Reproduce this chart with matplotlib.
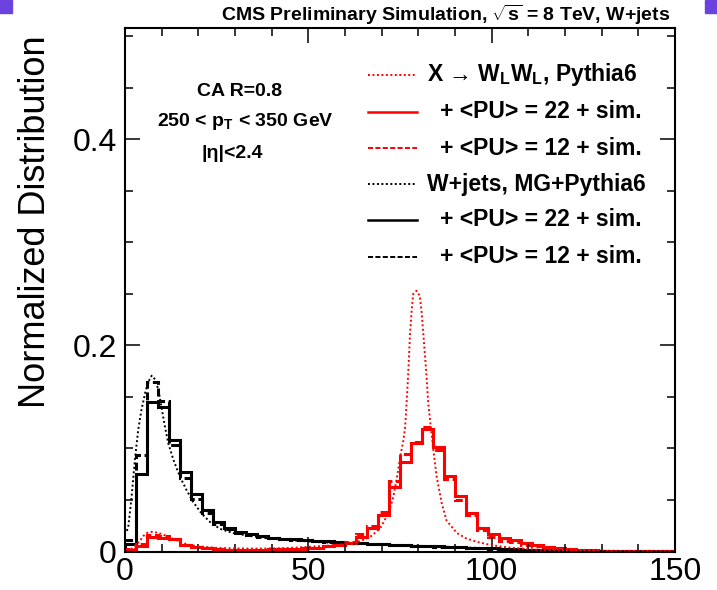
import numpy as np
import matplotlib
matplotlib.use('Agg')
import matplotlib.pyplot as plt
from matplotlib.patches import Rectangle
from matplotlib.ticker import FixedLocator, MultipleLocator, FuncFormatter

plt.rcParams['font.family'] = ['Liberation Sans', 'DejaVu Sans']
plt.rcParams['mathtext.fontset'] = 'custom'
plt.rcParams['mathtext.rm'] = 'Liberation Sans:bold'
plt.rcParams['mathtext.it'] = 'Liberation Sans:bold'
plt.rcParams['mathtext.bf'] = 'Liberation Sans:bold'
plt.rcParams['mathtext.default'] = 'rm'

# ---------------- data ----------------
bin_edges = np.arange(0, 151, 3)  # 50 bins of 3 GeV

wjets_pu22 = [0.007, 0.075, 0.145, 0.140, 0.108, 0.077, 0.056, 0.040, 0.029, 0.023,
              0.019, 0.0168, 0.0152, 0.0135, 0.0125, 0.0118, 0.0112, 0.0106, 0.0100, 0.0093,
              0.0086, 0.0081, 0.0076, 0.0071, 0.0067, 0.0063, 0.0058, 0.0054, 0.0050, 0.0046,
              0.0042, 0.0038, 0.0034, 0.0030, 0.0026, 0.0022, 0.0019, 0.0016, 0.0014, 0.0012,
              0.0010, 0.0009, 0.0008, 0.0007, 0.0006, 0.0005, 0.0005, 0.0004, 0.0004, 0.0003]

wjets_pu12 = [0.011, 0.094, 0.164, 0.146, 0.103, 0.071, 0.051, 0.037, 0.027, 0.022,
              0.018, 0.016, 0.0145, 0.013, 0.012, 0.0113, 0.0107, 0.0101, 0.0095, 0.0089,
              0.0083, 0.0078, 0.0073, 0.0068, 0.0064, 0.0060, 0.0055, 0.0051, 0.0047, 0.0043,
              0.0039, 0.0035, 0.0031, 0.0027, 0.0024, 0.0020, 0.0017, 0.0015, 0.0013, 0.0011,
              0.0009, 0.0008, 0.0007, 0.0006, 0.0005, 0.0005, 0.0004, 0.0004, 0.0003, 0.0003]

ww_pu22 = [0.001, 0.005, 0.014, 0.0135, 0.012, 0.0065, 0.0045, 0.0035, 0.0025, 0.0012,
           0.0014, 0.0016, 0.0017, 0.0020, 0.0024, 0.0027, 0.0030, 0.0038, 0.0050, 0.0060,
           0.0080, 0.0140, 0.0228, 0.0358, 0.0628, 0.0871, 0.1057, 0.1187, 0.1018, 0.0732,
           0.0540, 0.0374, 0.0232, 0.0170, 0.0128, 0.0107, 0.0078, 0.0059, 0.0044, 0.0034,
           0.0026, 0.0017, 0.0011, 0.0009, 0.0006, 0.0005, 0.0004, 0.0003, 0.0003, 0.0002]

ww_pu12 = [0.002, 0.007, 0.016, 0.015, 0.012, 0.0065, 0.0045, 0.0033, 0.0024, 0.0012,
           0.0013, 0.0015, 0.0016, 0.0019, 0.0023, 0.0026, 0.0029, 0.0037, 0.0049, 0.0062,
           0.0088, 0.0170, 0.0244, 0.0384, 0.0680, 0.0950, 0.1066, 0.1210, 0.0985, 0.0700,
           0.0504, 0.0358, 0.0205, 0.0140, 0.0100, 0.0090, 0.0065, 0.0050, 0.0038, 0.0030,
           0.0022, 0.0015, 0.0010, 0.0008, 0.0006, 0.0005, 0.0004, 0.0003, 0.0002, 0.0002]

# generator-level (fine binned) curves
ww_gen_mass = [0.5, 2, 4, 5, 6, 7, 8, 9, 10, 12, 14, 16, 18, 20, 25, 30, 35, 40, 45, 50, 55, 58,
               61.4, 64.1, 66.8, 69.5, 71.8, 73.2, 74.5, 75.2, 75.9, 76.4, 76.8, 77.3, 77.7,
               78.2, 78.6, 79.5, 80.4, 80.9, 81.4, 82.1, 82.7, 83.4, 84.1, 85.0, 86.4, 87.7,
               90.5, 93.2, 96.4, 99.1, 102.3, 105.5, 110.9, 115, 120, 130, 150]
ww_gen_vals = [0.0005, 0.003, 0.010, 0.015, 0.018, 0.019, 0.019, 0.018, 0.017, 0.014, 0.011,
               0.008, 0.006, 0.005, 0.0035, 0.003, 0.0028, 0.003, 0.0035, 0.0045, 0.0055, 0.0065,
               0.0081, 0.010, 0.014, 0.022, 0.0367, 0.053, 0.079, 0.095, 0.107, 0.121, 0.144,
               0.177, 0.209, 0.235, 0.250, 0.253, 0.248, 0.232, 0.209, 0.177, 0.144, 0.121,
               0.0985, 0.0725, 0.0465, 0.030, 0.018, 0.0124, 0.009, 0.0068, 0.0049, 0.0036,
               0.0021, 0.0012, 0.0006, 0.0003, 0.0001]

wj_gen_mass = [0.5, 0.9, 1.8, 2.7, 3.6, 4.5, 5.5, 6.4, 7.3, 8.2, 9.1, 10, 10.9, 11.8, 13.2, 15,
               16.8, 18.6, 20.9, 23.2, 25.9, 29.5, 35, 44, 53, 62, 70, 80, 90, 100, 110, 120,
               130, 150]
wj_gen_vals = [0.020, 0.024, 0.053, 0.089, 0.118, 0.1376, 0.154, 0.165, 0.1707, 0.167, 0.157,
               0.139, 0.121, 0.105, 0.089, 0.0725, 0.0595, 0.048, 0.0368, 0.0286, 0.022, 0.0179,
               0.0146, 0.0114, 0.009, 0.0076, 0.0066, 0.0055, 0.0043, 0.003, 0.0018, 0.0010,
               0.0006, 0.0003]

legend_labels = ["X → W$_{L}$W$_{L}$, Pythia6",
                 "+ <PU> = 22 + sim.",
                 "+ <PU> = 12 + sim.",
                 "W+jets, MG+Pythia6",
                 "+ <PU> = 22 + sim.",
                 "+ <PU> = 12 + sim."]

# ---------------- figure ----------------
W, H = 717, 590
fig = plt.figure(figsize=(W / 100, H / 100), dpi=100)
L, R, T, B = 125, 675, 28, 551.5
ax = fig.add_axes([L / W, 1 - B / H, (R - L) / W, (B - T) / H])

dash = (0, (2.6, 1.2))
dot = (0, (1.0, 1.3))
lw_h = 2.2

ax.plot(wj_gen_mass, wj_gen_vals, color='black', lw=1.4, linestyle=dot)
ax.stairs(wjets_pu12, bin_edges, color='black', lw=lw_h, linestyle=dash)
ax.stairs(wjets_pu22, bin_edges, color='black', lw=lw_h)
ax.plot(ww_gen_mass, ww_gen_vals, color='red', lw=1.4, linestyle=dot)
ax.stairs(ww_pu12, bin_edges, color='red', lw=lw_h, linestyle=dash)
ax.stairs(ww_pu22, bin_edges, color='red', lw=lw_h)

ax.set_xlim(0, 150)
ax.set_ylim(0, 0.508)
ax.xaxis.set_major_locator(FixedLocator([0, 50, 100, 150]))
ax.xaxis.set_minor_locator(MultipleLocator(10))
ax.yaxis.set_major_locator(FixedLocator([0, 0.2, 0.4]))
ax.yaxis.set_minor_locator(MultipleLocator(0.05))
ax.yaxis.set_major_formatter(FuncFormatter(lambda v, p: '%g' % round(v, 3)))
ax.xaxis.set_major_formatter(FuncFormatter(lambda v, p: '%g' % v))
ax.tick_params(which='both', direction='in', top=True, right=True, width=1.1,
               labelsize=23)
ax.tick_params(which='major', length=11)
ax.tick_params(which='minor', length=5.5)
ax.tick_params(axis='x', pad=4)
ax.tick_params(axis='y', pad=6)
for s in ax.spines.values():
    s.set_linewidth(1.5)

fig.text(36 / W, 1 - 222 / H, "Normalized Distribution", rotation=90, fontsize=26,
         ha='center', va='center')

fig.text(670 / W, 1 - 15 / H, r"CMS Preliminary Simulation, $\sqrt{s}$ = 8 TeV, W+jets",
         ha='right', va='center', fontsize=14, fontweight='bold')

# info text
def ax_pt(px, py):
    return ((px - L) / (R - L), (B - py) / (B - T))

for txt, (px, py) in [("CA R=0.8", (240, 91.7)),
                      (r"250 < $p_{T}$ < 350 GeV", (245, 121.7)),
                      ("|η|<2.4", (232, 153))]:
    x, y = ax_pt(px, py)
    ax.text(x, y, txt, transform=ax.transAxes, ha='center', va='center',
            fontsize=14, fontweight='bold')

# legend
styles = [('red', dot, 1.4), ('red', '-', 1.8), ('red', dash, 1.4),
          ('black', dot, 1.4), ('black', '-', 1.8), ('black', dash, 1.4)]
rows = [75, 111.7, 148.3, 184, 220, 256.7]
for (c, ls, lw), py, lab, i in zip(styles, rows, legend_labels, range(6)):
    x0, y = ax_pt(368, py)
    x1, _ = ax_pt(417, py)
    ax.plot([x0, x1], [y, y], transform=ax.transAxes, color=c, linestyle=ls, lw=lw)
    tx, _ = ax_pt(427 if i in (0, 3) else 440, py)
    ax.text(tx, y, lab, transform=ax.transAxes, ha='left', va='center',
            fontsize=16.5, fontweight='bold')

# corner marks
for x0 in (0, 705):
    fig.patches.append(Rectangle((x0 / W, 1 - 13 / H), 12 / W, 13 / H,
                                 transform=fig.transFigure, color='#6c42de', zorder=10))

fig.savefig('out.png', dpi=100)
